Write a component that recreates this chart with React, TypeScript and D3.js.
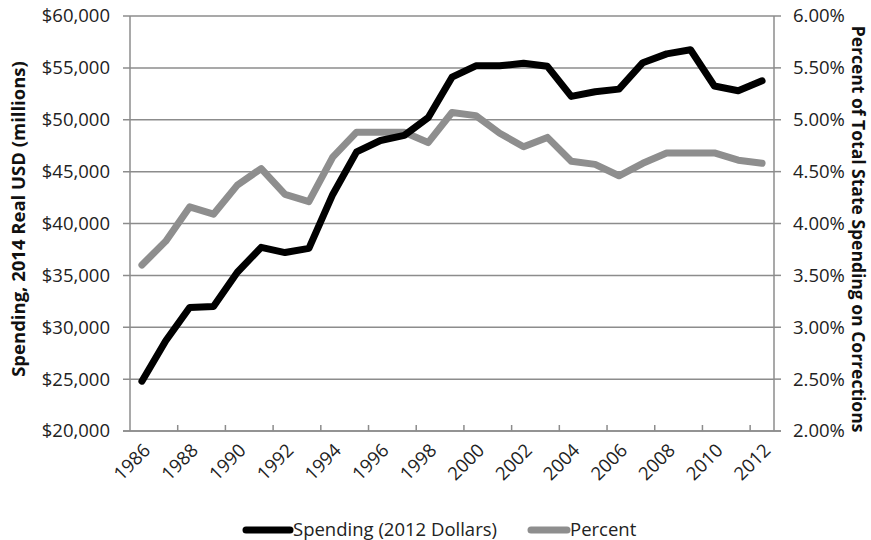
import React from "react";
import * as d3 from "d3";

const years: number[] = [
  1986, 1987, 1988, 1989, 1990, 1991, 1992, 1993, 1994, 1995, 1996, 1997, 1998, 1999,
  2000, 2001, 2002, 2003, 2004, 2005, 2006, 2007, 2008, 2009, 2010, 2011, 2012,
];
const spending: number[] = [
  24800, 28700, 31900, 32000, 35300, 37700, 37200, 37600, 42800, 46900, 48000, 48500, 50200,
  54100, 55200, 55200, 55450, 55150, 52250, 52700, 52950, 55500, 56350, 56750, 53250, 52800, 53750,
];
const percent: number[] = [
  0.036, 0.0383, 0.0416, 0.0409, 0.0437, 0.0453, 0.0428, 0.0421, 0.0464, 0.0488, 0.0488, 0.0488,
  0.0478, 0.0507, 0.0504, 0.0487, 0.0474, 0.0483, 0.046, 0.0457, 0.0446, 0.0458, 0.0468, 0.0468,
  0.0468, 0.0461, 0.0458,
];
const leftTicks: number[] = [20000, 25000, 30000, 35000, 40000, 45000, 50000, 55000, 60000];
const rightTicks: number[] = [0.02, 0.025, 0.03, 0.035, 0.04, 0.045, 0.05, 0.055, 0.06];
const labelYears: number[] = [1986, 1988, 1990, 1992, 1994, 1996, 1998, 2000, 2002, 2004, 2006, 2008, 2010, 2012];
const seriesNames = ["Spending (2012 Dollars)", "Percent"];
const leftTitle = "Spending, 2014 Real USD (millions)";
const rightTitle = "Percent of Total State Spending on Corrections";

const W = 871;
const H = 540;
const L = 130;
const R = 774;
const T = 16;
const B = 431;
const FONT = "'Open Sans', 'Liberation Sans', sans-serif";
const GRID = "#8c8c8c";
const GREY = "#8e8e8e";
const FS = 18.5;

export default function App() {
  const x = d3.scaleBand<number>().domain(years).range([L, R]).paddingInner(0).paddingOuter(0);
  const yL = d3.scaleLinear().domain([20000, 60000]).range([B, T]);
  const yR = d3.scaleLinear().domain([0.02, 0.06]).range([B, T]);
  const cx = (yr: number) => (x(yr) as number) + x.bandwidth() / 2;

  const lineSpend = d3
    .line<number>()
    .x((_, i) => cx(years[i]))
    .y((d) => yL(d));
  const linePct = d3
    .line<number>()
    .x((_, i) => cx(years[i]))
    .y((d) => yR(d));

  const fmtL = (v: number) => "$" + d3.format(",")(v);
  const fmtR = d3.format(".2%");

  const tickIdx = years.map((_, i) => i).filter((i) => i > 0 && i % 2 === 0);

  return (
    <svg
      width={W}
      height={H}
      style={{ position: "absolute", left: 0, top: 0, background: "#fff" }}
      fontFamily={FONT}
    >
      {/* gridlines */}
      {leftTicks.map((t) => (
        <line key={"g" + t} x1={L - 7} x2={R} y1={yL(t)} y2={yL(t)} stroke={GRID} strokeWidth={1.5} />
      ))}
      {/* right axis ticks */}
      {rightTicks.map((t) => (
        <line key={"rt" + t} x1={R} x2={R + 7} y1={yR(t)} y2={yR(t)} stroke={GRID} strokeWidth={1.5} />
      ))}
      {/* axes */}
      <line x1={L} x2={L} y1={T} y2={B} stroke={GRID} strokeWidth={1.5} />
      <line x1={R} x2={R} y1={T} y2={B} stroke={GRID} strokeWidth={1.5} />
      <line x1={L - 7} x2={R + 7} y1={B} y2={B} stroke={GRID} strokeWidth={1.5} />
      {tickIdx.map((i) => (
        <line
          key={"xt" + i}
          x1={x(years[i]) as number}
          x2={x(years[i]) as number}
          y1={B}
          y2={B - 6}
          stroke={GRID}
          strokeWidth={1.5}
        />
      ))}
      {/* left tick labels */}
      {leftTicks.map((t) => (
        <text key={"lt" + t} x={110} y={yL(t)} dy="0.35em" textAnchor="end" fontSize={FS} fill="#222">
          {fmtL(t)}
        </text>
      ))}
      {/* right tick labels */}
      {rightTicks.map((t) => (
        <text key={"rl" + t} x={793} y={yR(t)} dy="0.35em" textAnchor="start" fontSize={FS} fill="#222">
          {fmtR(t)}
        </text>
      ))}
      {/* x labels */}
      {labelYears.map((yr) => (
        <text
          key={"xl" + yr}
          transform={`translate(${cx(yr) + 5},${B + 16}) rotate(-45)`}
          textAnchor="end"
          dy="0.35em"
          fontSize={FS}
          fill="#222"
        >
          {yr}
        </text>
      ))}
      {/* series */}
      <path d={linePct(percent) || ""} fill="none" stroke={GREY} strokeWidth={7} strokeLinejoin="round" strokeLinecap="round" />
      <path d={lineSpend(spending) || ""} fill="none" stroke="#000" strokeWidth={7} strokeLinejoin="round" strokeLinecap="round" />
      {/* axis titles */}
      <text
        transform={`translate(19,219) rotate(-90)`}
        textAnchor="middle"
        dy="0.35em"
        fontSize={18.5}
        fontWeight="bold"
        fill="#111"
      >
        {leftTitle}
      </text>
      <text
        transform={`translate(858,229) rotate(90)`}
        textAnchor="middle"
        dy="0.35em"
        fontSize={17.5}
        fontWeight="bold"
        fill="#111"
      >
        {rightTitle}
      </text>
      {/* legend */}
      <line x1={246} x2={290} y1={530} y2={530} stroke="#000" strokeWidth={7} strokeLinecap="round" />
      <text x={293} y={530} dy="0.35em" fontSize={FS} fill="#222">
        {seriesNames[0]}
      </text>
      <line x1={531} x2={567} y1={530} y2={530} stroke={GREY} strokeWidth={7} strokeLinecap="round" />
      <text x={570} y={530} dy="0.35em" fontSize={FS} fill="#222">
        {seriesNames[1]}
      </text>
    </svg>
  );
}
